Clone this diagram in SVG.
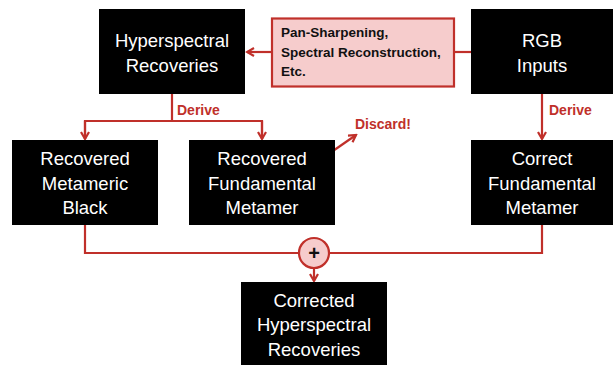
<svg xmlns="http://www.w3.org/2000/svg" width="613" height="365" viewBox="0 0 613 365">
<defs>
<marker id="arr" markerWidth="10" markerHeight="10" refX="8" refY="5" orient="auto" markerUnits="userSpaceOnUse">
<path d="M1,1 L8,5 L1,9" fill="none" stroke="#c0302a" stroke-width="2.2"/>
</marker>
<style>
.box{fill:#000;}
.bt{fill:#fff;font-family:"Liberation Sans",Arial,sans-serif;font-size:18.5px;text-anchor:middle;}
.ln{fill:none;stroke:#c0302a;stroke-width:2.2;}
.lbl{fill:#c0302a;font-family:"Liberation Sans",Arial,sans-serif;font-size:14px;font-weight:bold;}
.pt{fill:#111;font-family:"Liberation Sans",Arial,sans-serif;font-size:13.5px;font-weight:bold;}
</style>
</defs>
<rect width="613" height="365" fill="#fff"/>
<g id="connectors">
<line class="ln" x1="471" y1="52" x2="454" y2="52"/>
<line class="ln" x1="272" y1="52" x2="247" y2="52" marker-end="url(#arr)"/>
<polyline class="ln" points="172,94 172,121"/>
<polyline class="ln" points="85,139 85,121 262,121 262,139"/>
<line class="ln" x1="85" y1="121" x2="85" y2="139" marker-end="url(#arr)"/>
<line class="ln" x1="262" y1="121" x2="262" y2="139" marker-end="url(#arr)"/>
<line class="ln" x1="542" y1="94" x2="542" y2="139" marker-end="url(#arr)"/>
<line class="ln" x1="317" y1="162" x2="356" y2="135" marker-end="url(#arr)"/>
<polyline class="ln" points="85,225 85,253 299,253"/>
<polyline class="ln" points="542,225 542,253 329,253"/>
<line class="ln" x1="314" y1="268" x2="314" y2="281" marker-end="url(#arr)"/>
<text class="lbl" x="177" y="115">Derive</text>
<text class="lbl" x="549" y="115">Derive</text>
<text class="lbl" x="355" y="129">Discard!</text>
</g>
<g id="plus">
<circle cx="314" cy="253" r="15" fill="#f6cccc" stroke="#c0302a" stroke-width="2.2"/>
<text x="314" y="260" text-anchor="middle" font-family="Liberation Sans,Arial,sans-serif" font-size="20" font-weight="bold" fill="#111">+</text>
</g>
<g id="hyper">
<rect class="box" x="99" y="9" width="146" height="85"/>
<text class="bt" x="172" y="47">Hyperspectral</text>
<text class="bt" x="172" y="72">Recoveries</text>
</g>
<g id="method">
<rect x="272" y="18.5" width="182" height="68" fill="#f6cccc" stroke="#c0302a" stroke-width="2.2"/>
<text class="pt" x="281" y="37">Pan-Sharpening,</text>
<text class="pt" x="281" y="57">Spectral Reconstruction,</text>
<text class="pt" x="281" y="76">Etc.</text>
</g>
<g id="rgb">
<rect class="box" x="471" y="9" width="142" height="85"/>
<text class="bt" x="542" y="47">RGB</text>
<text class="bt" x="542" y="72">Inputs</text>
</g>
<g id="black">
<rect class="box" x="12" y="140" width="146" height="85"/>
<text class="bt" x="85" y="165">Recovered</text>
<text class="bt" x="85" y="190">Metameric</text>
<text class="bt" x="85" y="214">Black</text>
</g>
<g id="recfund">
<rect class="box" x="189" y="140" width="146" height="85"/>
<text class="bt" x="262" y="165">Recovered</text>
<text class="bt" x="262" y="190">Fundamental</text>
<text class="bt" x="262" y="214">Metamer</text>
</g>
<g id="corrfund">
<rect class="box" x="471" y="140" width="142" height="85"/>
<text class="bt" x="542" y="165">Correct</text>
<text class="bt" x="542" y="190">Fundamental</text>
<text class="bt" x="542" y="214">Metamer</text>
</g>
<g id="corrected">
<rect class="box" x="241" y="282" width="146" height="83"/>
<text class="bt" x="314" y="307">Corrected</text>
<text class="bt" x="314" y="331">Hyperspectral</text>
<text class="bt" x="314" y="356">Recoveries</text>
</g>
</svg>
